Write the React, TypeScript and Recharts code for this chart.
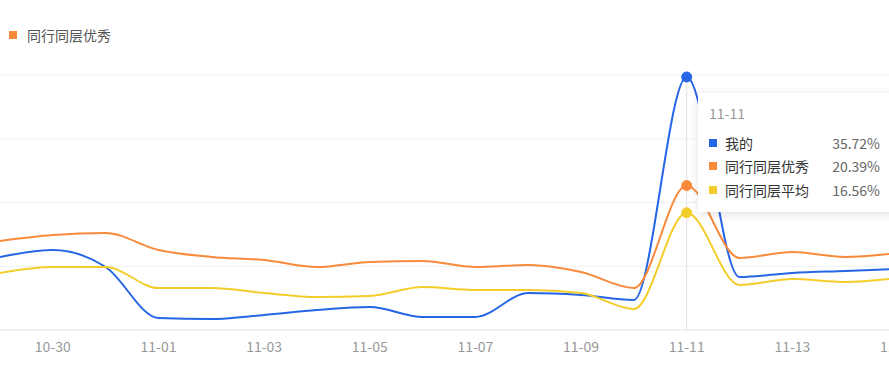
import React from "react";
import {
  CartesianGrid,
  Legend,
  Line,
  LineChart,
  Tooltip,
  XAxis,
  YAxis,
} from "recharts";

const dates = [
  "10-29", "10-30", "10-31", "11-01", "11-02", "11-03", "11-04", "11-05", "11-06",
  "11-07", "11-08", "11-09", "11-10", "11-11", "11-12", "11-13", "11-14", "11-15",
];
const shownDates = ["10-30", "11-01", "11-03", "11-05", "11-07", "11-09", "11-11", "11-13", "11-15"];

const mine = [10.31, 11.29, 8.89, 1.69, 1.55, 2.12, 2.82, 3.25, 1.84, 1.84, 5.22, 4.94, 4.24, 35.72, 7.48, 8.05, 8.33, 8.61];
const excellent = [12.57, 13.41, 13.69, 11.29, 10.31, 9.88, 8.89, 9.6, 9.74, 8.89, 9.18, 8.19, 5.93, 20.39, 10.17, 11.01, 10.31, 10.87];
const average = [8.05, 8.89, 8.89, 5.93, 5.93, 5.22, 4.66, 4.8, 6.07, 5.65, 5.65, 5.22, 2.96, 16.56, 6.35, 7.2, 6.78, 7.34];

const yTicks = [0, 9, 18, 27, 36];

const FONT = '"Noto Sans CJK SC", "Noto Sans", sans-serif';
const BLUE = "#2665e5";
const ORANGE = "#f98a3c";
const YELLOW = "#f3cd2b";

const data = dates.map((d, i) => ({
  date: d,
  mine: mine[i],
  excellent: excellent[i],
  average: average[i],
}));

const seriesInfo = [
  { key: "mine", name: "我的", color: BLUE },
  { key: "excellent", name: "同行同层优秀", color: ORANGE },
  { key: "average", name: "同行同层平均", color: YELLOW },
];

function TipBox({ payload, label }: any) {
  if (!payload || !payload.length) return null;
  return (
    <div
      style={{
        width: 200,
        boxSizing: "border-box",
        background: "#fff",
        boxShadow: "1px 2px 10px rgba(0,0,0,0.12)",
        padding: "10px 0 10px 11px",
        fontFamily: FONT,
        fontSize: 14,
      }}
    >
      <div style={{ color: "#999", lineHeight: "20px", marginBottom: 8 }}>{label}</div>
      {seriesInfo.map((s) => {
        const p = payload.find((x: any) => x.dataKey === s.key);
        return (
          <div
            key={s.key}
            style={{
              width: 171,
              display: "flex",
              alignItems: "center",
              justifyContent: "space-between",
              height: 23.5,
            }}
          >
            <span style={{ display: "flex", alignItems: "center", color: "#333" }}>
              <span style={{ width: 8, height: 8, background: s.color, marginRight: 8 }} />
              {s.name}
            </span>
            <span style={{ color: "#666" }}>{p ? p.value.toFixed(2) + "%" : ""}</span>
          </div>
        );
      })}
    </div>
  );
}

function LegendBox({ payload }: any) {
  const items = (payload || []).filter((p: any) => p.dataKey === "excellent");
  return (
    <div style={{ display: "flex", fontFamily: FONT, fontSize: 14 }}>
      {items.map((p: any) => (
        <div key={p.dataKey} style={{ display: "flex", alignItems: "center", color: "#555" }}>
          <span style={{ width: 8, height: 8, background: p.color, marginRight: 10 }} />
          {p.value}
        </div>
      ))}
    </div>
  );
}

export default function App() {
  return (
    <div
      style={{
        position: "absolute",
        left: 0,
        top: 0,
        width: 889,
        height: 376,
        overflow: "hidden",
        background: "#fff",
        fontFamily: FONT,
      }}
    >
      <LineChart
        width={920}
        height={376}
        data={data}
        margin={{ top: 75, right: 22, bottom: 16, left: 0 }}
      >
        <CartesianGrid vertical={false} stroke="#eff1f4" />
        <XAxis
          dataKey="date"
          height={30}
          interval={0}
          tickLine={false}
          axisLine={{ stroke: "#e6e9ef" }}
          tickMargin={6}
          tick={{ fill: "#999", fontSize: 14, fontFamily: FONT }}
          tickFormatter={(v: string) => (shownDates.includes(v) ? v : "")}
        />
        <YAxis hide domain={[0, 36]} ticks={yTicks} />
        <Legend
          layout="vertical"
          align="center"
          verticalAlign="middle"
          wrapperStyle={{ left: 9, top: 25 }}
          content={<LegendBox />}
        />
        <Tooltip
          active
          defaultIndex={13}
          position={{ x: 698, y: 93 }}
          cursor={{ stroke: "#e3e3e3", strokeWidth: 1 }}
          content={<TipBox />}
          isAnimationActive={false}
          wrapperStyle={{ outline: "none" }}
        />
        {seriesInfo.map((s) => (
          <Line
            key={s.key}
            type="monotone"
            dataKey={s.key}
            name={s.name}
            stroke={s.color}
            strokeWidth={2}
            dot={false}
            activeDot={{ r: 5, fill: s.color, stroke: s.color, strokeWidth: 1 }}
            isAnimationActive={false}
          />
        ))}
      </LineChart>
    </div>
  );
}
